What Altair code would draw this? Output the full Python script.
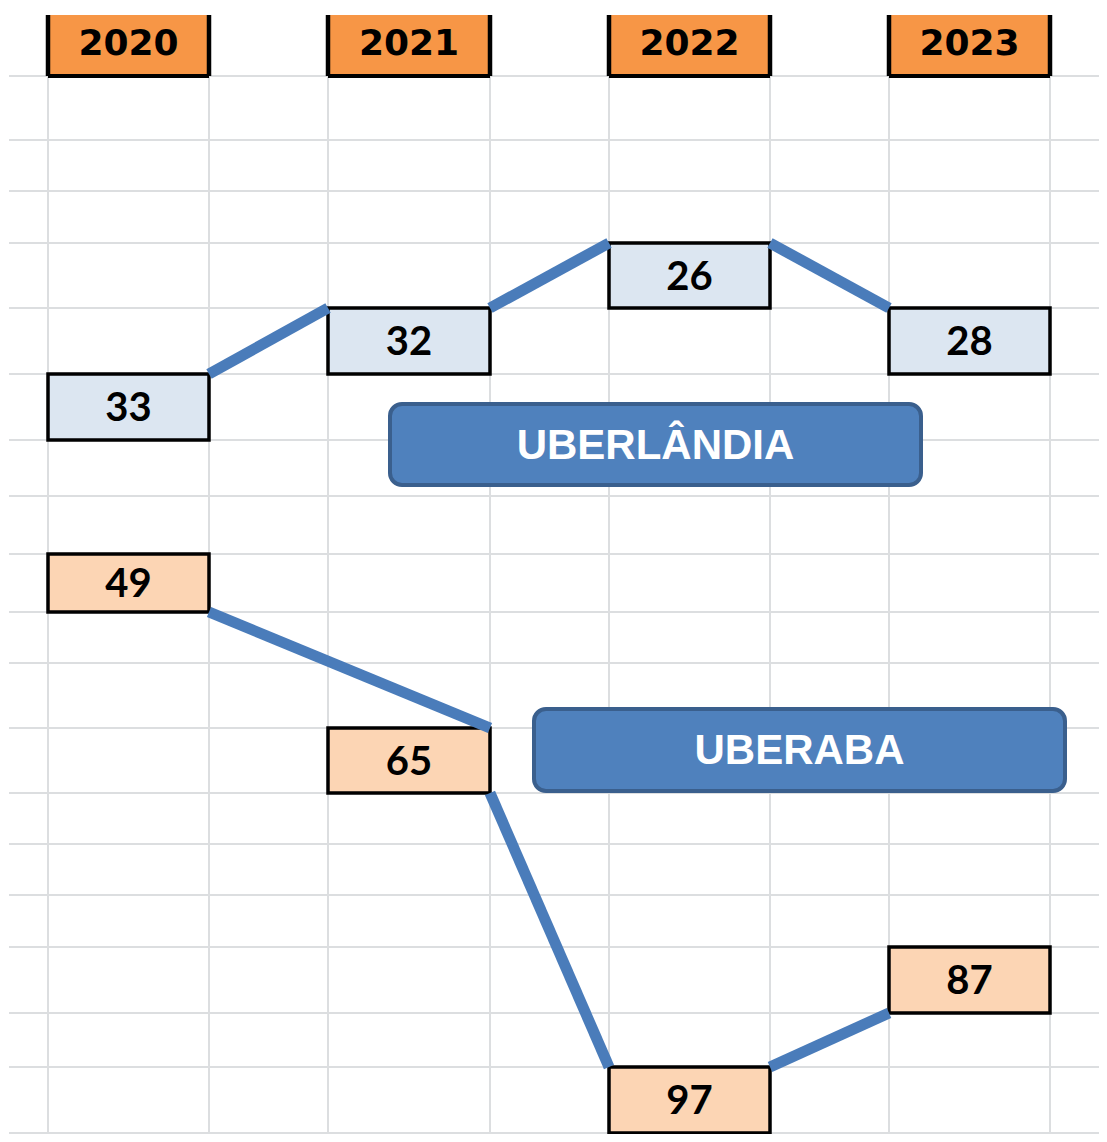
import altair as alt
import pandas as pd

# ---- data ----
years = ["2020", "2021", "2022", "2023"]
uberlandia = [33, 32, 26, 28]
uberaba = [49, 65, 97, 87]
cities = ["UBERLÂNDIA", "UBERABA"]
# spreadsheet row each value sits in
uberlandia_rows = [5, 4, 3, 4]
uberaba_rows = [8, 11, 17, 15]

# ---- layout (spreadsheet grid) ----
ROW_EDGES = [76, 140, 191, 243, 308, 374, 440, 496, 554, 612, 663, 728, 793,
             844, 895, 947, 1013, 1067, 1133]
COL_EDGES = [48, 209, 328, 490, 609, 770, 889, 1050]
HEADER_TOP = 15
GRID_X0, GRID_X1 = 9, 1107
GRID_Y1 = 1142
# connector corners (from-box corner, to-box corner)
CORNERS = {
    "UBERLÂNDIA": [("tr", "tl"), ("tr", "tl"), ("tr", "tl")],
    "UBERABA": [("br", "tr"), ("br", "tl"), ("tr", "bl")],
}
LABEL_BOXES = {
    "UBERLÂNDIA": (390, 921, 404, 485),
    "UBERABA": (534, 1065, 709, 791),
}

W, H = 1091, 1126
XS = alt.Scale(domain=[8, 8 + W], nice=False, zero=False)
YS = alt.Scale(domain=[8, 8 + H], nice=False, zero=False, reverse=True)

def X(f):
    return alt.X(f, type="quantitative", scale=XS, axis=None)

def Y(f):
    return alt.Y(f, type="quantitative", scale=YS, axis=None)

# grid
hgrid = pd.DataFrame({"y": ROW_EDGES, "x": GRID_X0, "x2": GRID_X1})
vgrid = pd.DataFrame({"x": COL_EDGES, "y": ROW_EDGES[0], "y2": GRID_Y1})
grid_h = alt.Chart(hgrid).mark_rule(color="#dcdee0", strokeWidth=2).encode(
    x=X("x"), x2="x2", y=Y("y"))
grid_v = alt.Chart(vgrid).mark_rule(color="#dcdee0", strokeWidth=2).encode(
    x=X("x"), y=Y("y"), y2="y2")

# headers
hdr = pd.DataFrame({
    "year": years,
    "x": [COL_EDGES[2 * j] for j in range(4)],
    "x2": [COL_EDGES[2 * j + 1] for j in range(4)],
    "y": HEADER_TOP,
    "y2": ROW_EDGES[0],
})
hdr["cx"] = (hdr["x"] + hdr["x2"]) / 2
hdr["cy"] = (hdr["y"] + hdr["y2"]) / 2
hdr_rect = alt.Chart(hdr).mark_rect(color="#f79646").encode(
    x=X("x"), x2="x2", y=Y("y"), y2="y2")
hdr_left = alt.Chart(hdr).mark_rule(color="black", strokeWidth=4.5).encode(
    x=X("x"), y=Y("y"), y2="y2")
hdr_right = alt.Chart(hdr).mark_rule(color="black", strokeWidth=4.5).encode(
    x=X("x2"), y=Y("y"), y2="y2")
hdr_bottom = alt.Chart(hdr).mark_rule(color="black", strokeWidth=4).encode(
    x=X("x"), x2="x2", y=Y("y2"))
hdr_text = alt.Chart(hdr).mark_text(
    font="DejaVu Sans", fontWeight="bold", fontSize=36, color="black",
    align="center", baseline="middle", dy=-2).encode(
    x=X("cx"), y=Y("cy"), text="year:N")

# value boxes
rows = []
for city, vals, rws in [("UBERLÂNDIA", uberlandia, uberlandia_rows),
                        ("UBERABA", uberaba, uberaba_rows)]:
    for j, (v, r) in enumerate(zip(vals, rws)):
        rows.append({"city": city, "year": years[j], "value": v,
                     "x": COL_EDGES[2 * j], "x2": COL_EDGES[2 * j + 1],
                     "y": ROW_EDGES[r], "y2": ROW_EDGES[r + 1]})
boxes = pd.DataFrame(rows)
boxes["cx"] = (boxes["x"] + boxes["x2"]) / 2
boxes["cy"] = (boxes["y"] + boxes["y2"]) / 2

fill_scale = alt.Scale(domain=cities, range=["#dce6f1", "#fcd5b4"])
box_rect = alt.Chart(boxes).mark_rect(stroke="black", strokeWidth=3.5).encode(
    x=X("x"), x2="x2", y=Y("y"), y2="y2",
    fill=alt.Fill("city:N", scale=fill_scale, legend=None))
box_text = alt.Chart(boxes).mark_text(
    font="Lato", fontWeight="bold", fontSize=40, color="black",
    align="center", baseline="middle", dy=2).encode(
    x=X("cx"), y=Y("cy"), text="value:Q")

# connectors
def corner(b, c):
    yy = b["y"] if c[0] == "t" else b["y2"]
    xx = b["x"] if c[1] == "l" else b["x2"]
    return xx, yy

segs = []
for city in cities:
    cb = boxes[boxes["city"] == city].reset_index(drop=True)
    for j, (c0, c1) in enumerate(CORNERS[city]):
        x0, y0 = corner(cb.loc[j], c0)
        x1, y1 = corner(cb.loc[j + 1], c1)
        segs.append({"city": city, "x": x0, "y": y0, "x2": x1, "y2": y1})
segs = pd.DataFrame(segs)
seg_rule = alt.Chart(segs).mark_rule(color="#4a7cba", strokeWidth=11,
                                     strokeCap="butt").encode(
    x=X("x"), y=Y("y"), x2="x2", y2="y2")

# city labels
lab = pd.DataFrame([{"city": c, "x": LABEL_BOXES[c][0], "x2": LABEL_BOXES[c][1],
                     "y": LABEL_BOXES[c][2], "y2": LABEL_BOXES[c][3]} for c in cities])
lab["cx"] = (lab["x"] + lab["x2"]) / 2
lab["cy"] = (lab["y"] + lab["y2"]) / 2
lab_rect = alt.Chart(lab).mark_rect(fill="#4f81bd", stroke="#3a5f8d",
                                    strokeWidth=4, cornerRadius=12).encode(
    x=X("x"), x2="x2", y=Y("y"), y2="y2")
lab_text = alt.Chart(lab).mark_text(
    font="Liberation Sans", fontWeight="bold", fontSize=42, color="white",
    align="center", baseline="middle", dy=1).encode(
    x=X("cx"), y=Y("cy"), text="city:N")

chart = alt.layer(
    grid_h, grid_v, hdr_rect, hdr_left, hdr_right, hdr_bottom, hdr_text,
    box_rect, seg_rule, lab_rect, box_text, lab_text
).properties(
    width=W, height=H, padding=0, autosize=alt.AutoSizeParams(type="none")
).configure_view(stroke=None)

chart.save("out.html", embed_options={"renderer": "svg", "actions": False})
